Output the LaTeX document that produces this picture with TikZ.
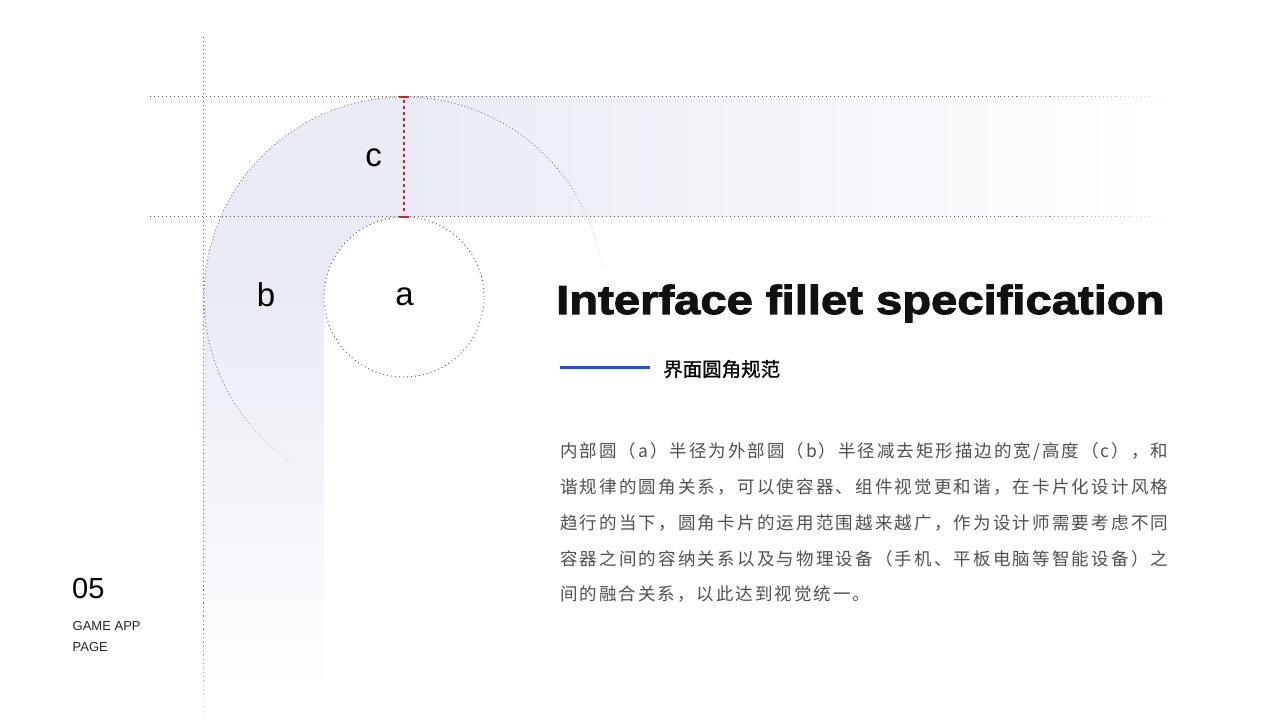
\documentclass[tikz,border=0pt]{standalone}
\usepackage{fontspec}
\setmainfont{Liberation Sans}
\newfontfamily\cjk{Noto Sans CJK SC}
\newfontfamily\cjkmed{Noto Sans CJK SC}[FakeBold=0.9]
\newfontfamily\titlefont{Liberation Sans}[FakeStretch=1.165, BoldFeatures={FakeBold=2.5}]
\definecolor{band}{RGB}{232,235,244}
\definecolor{guide}{RGB}{90,90,90}
\definecolor{arcgray}{RGB}{125,125,125}
\definecolor{redmark}{RGB}{225,30,30}
\definecolor{blueline}{RGB}{30,80,230}
\definecolor{bodytext}{RGB}{80,80,80}
\definecolor{titletext}{RGB}{17,17,17}
\makeatletter
\def\sp@glue{\hfill}
\def\sp@first#1{\ifx#1\relax\else#1\expandafter\sp@more\fi}
\def\sp@more#1{\ifx#1\relax\else\sp@glue#1\expandafter\sp@more\fi}
\newcommand\justline[2]{\hbox to #1{\def\sp@glue{\hfill}\sp@first#2\relax}}
\newcommand\kernline[2]{\hbox{\def\sp@glue{\kern#1}\sp@first#2\relax}}
\makeatother
\tikzset{
  guideline/.style={line width=1pt, dash pattern=on 1pt off 3pt},
  arcline/.style={line width=0.9pt, dash pattern=on 1pt off 2.5pt},
  letter/.style={inner sep=0pt, font=\fontsize{33}{33}\selectfont, text=black},
  bodyline/.style={inner sep=0pt, anchor=base west, font=\cjk\fontsize{17.5}{17.5}\selectfont, text=bodytext},
}
\begin{document}
\begin{tikzpicture}[x=1pt,y=1pt]
\useasboundingbox (0,0) rectangle (1280,720);
\fill[white] (0,0) rectangle (1280,720);

% bands
\fill[band] (204,423) arc[start angle=180,end angle=90,radius=200] -- (404,503) arc[start angle=90,end angle=180,radius=80] -- cycle;
\shade[left color=band, right color=white, middle color=band!50!white] (403.5,503) rectangle (1155,623);
\shade[top color=band, bottom color=white, middle color=band!50!white] (204,30) rectangle (324,423.5);

% vertical guide
\draw[guideline, draw=guide] (203,683) -- (203,130);
\foreach \i in {0,...,9}{
  \pgfmathtruncatemacro\pc{95-9*\i}
  \draw[guideline, draw=guide!\pc!white] (203,{130-13*\i}) -- (203,{130-13*(\i+1)});
}
% horizontal guides
\foreach \yy in {623,503}{
  \draw[guideline, draw=guide] (150,\yy) -- (1000,\yy);
  \foreach \i in {0,...,9}{
    \pgfmathtruncatemacro\pc{85-8*\i}
    \draw[guideline, draw=guide!\pc!white] ({1000+16.5*\i},\yy) -- ({1000+16.5*(\i+1)},\yy);
  }
}
% outer arc (b)
\draw[arcline, draw=arcgray] (404,423) ++(40:200) arc[start angle=40,end angle=205,radius=200];
\foreach \i in {0,...,7}{
  \pgfmathtruncatemacro\pc{90-11*\i}
  \draw[arcline, draw=arcgray!\pc!white] (404,423) ++({40-4*\i}:200) arc[start angle={40-4*\i},end angle={40-4*(\i+1)},radius=200];
  \draw[arcline, draw=arcgray!\pc!white] (404,423) ++({205+5*\i}:200) arc[start angle={205+5*\i},end angle={205+5*(\i+1)},radius=200];
}
% inner circle (a)
\draw[guideline, line width=0.9pt, draw=guide, fill=white] (404,423) circle[radius=80];

% c measure
\draw[redmark, line width=1.3pt, dash pattern=on 3pt off 3pt] (404,620) -- (404,506);
\draw[redmark, line width=1.5pt] (398.5,623) -- (408.5,623);
\draw[redmark, line width=1.5pt] (398.5,503) -- (408.5,503);

\node[letter] (lc) at (373.5,562) {c};
\node[letter] (lb) at (266,425) {b};
\node[letter] (la) at (404.5,423) {a};

% title
\node[inner sep=0pt, anchor=base west, text=titletext, font=\titlefont\bfseries\fontsize{40.5}{40.5}\selectfont] (title) at (556,406) {Interface fillet specification};
\coordinate (bl1) at (560,352);
\coordinate (bl2) at (650,352);
\draw[blueline, line width=3pt] (bl1) -- (bl2);
\node[inner sep=0pt, anchor=base west, text=black, font=\cjkmed\fontsize{19.5}{19.5}\selectfont] (sub) at (663,343.6) {界面圆角规范};

% body
\node[bodyline] (t1) at (560,262.5) {\justline{608pt}{内部圆（a）半径为外部圆（b）半径减去矩形描边的宽/高度（c），和}};
\node[bodyline] (t2) at (560,226) {\justline{608pt}{谐规律的圆角关系，可以使容器、组件视觉更和谐，在卡片化设计风格}};
\node[bodyline] (t3) at (560,190) {\justline{608pt}{趋行的当下，圆角卡片的运用范围越来越广，作为设计师需要考虑不同}};
\node[bodyline] (t4) at (560,154.5) {\justline{608pt}{容器之间的容纳关系以及与物理设备（手机、平板电脑等智能设备）之}};
\node[bodyline] (t5) at (560,119) {\kernline{2pt}{间的融合关系，以此达到视觉统一。}};

% page number
\node[inner sep=0pt, anchor=base west, font=\fontsize{29}{29}\selectfont] (num) at (72,121) {05};
\node[inner sep=0pt, anchor=base west, font=\fontsize{13}{13}\selectfont, text=black!85] (g1) at (72.5,89) {GAME APP};
\node[inner sep=0pt, anchor=base west, font=\fontsize{13}{13}\selectfont, text=black!85] (g2) at (72.5,68) {PAGE};
\end{tikzpicture}
\end{document}
